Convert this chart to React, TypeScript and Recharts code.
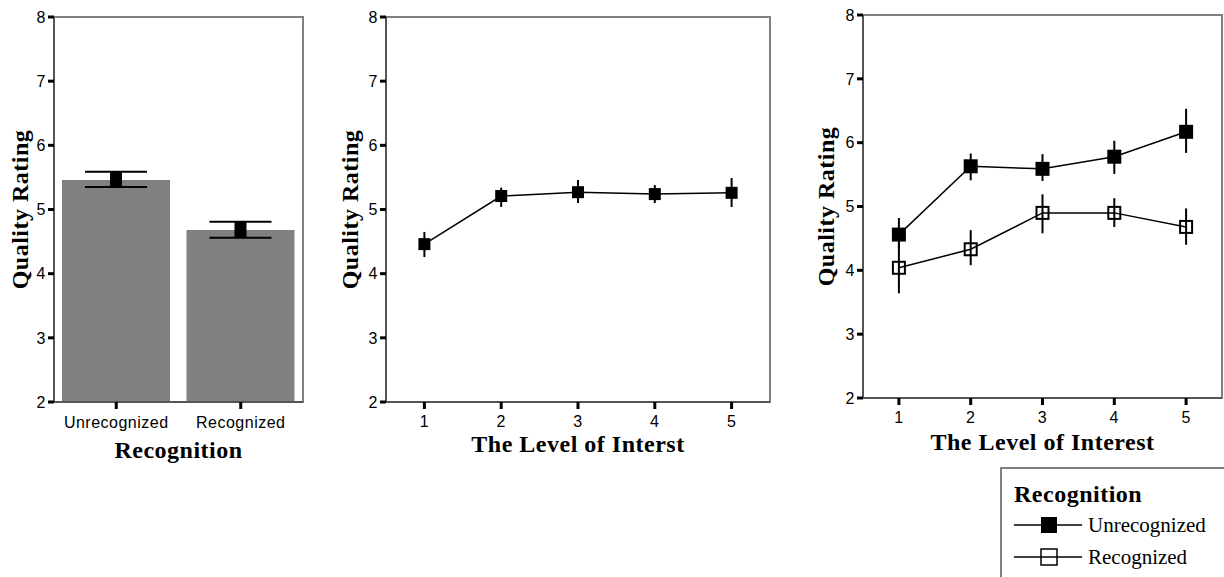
import React from 'react';
import {
  ComposedChart,
  Bar,
  ErrorBar,
  LineChart,
  Line,
  XAxis,
  YAxis,
  ReferenceArea,
} from 'recharts';

// panel 1: mean rating by recognition
const recognition = ['Unrecognized', 'Recognized'];
const barMeans = [5.46, 4.68];
const barLow = [5.35, 4.56];
const barHigh = [5.59, 4.81];

// panel 2: mean rating by level of interest
const levels = [1, 2, 3, 4, 5];
const interestMeans = [4.46, 5.21, 5.27, 5.24, 5.26];
const interestLow = [4.26, 5.04, 5.1, 5.1, 5.04];
const interestHigh = [4.65, 5.34, 5.46, 5.38, 5.49];

// panel 3: interest x recognition
const unrecMeans = [4.56, 5.63, 5.59, 5.78, 6.17];
const unrecLow = [4.35, 5.41, 5.4, 5.51, 5.84];
const unrecHigh = [4.82, 5.83, 5.82, 6.03, 6.53];
const recMeans = [4.04, 4.33, 4.9, 4.9, 4.68];
const recLow = [3.64, 4.08, 4.58, 4.68, 4.4];
const recHigh = [4.42, 4.63, 5.19, 5.13, 4.97];

const ratingTicks = [2, 3, 4, 5, 6, 7, 8];

const err = (m: number, lo: number, hi: number) => [m - lo, hi - m];

const barData = recognition.map((name, i) => ({
  name,
  mean: barMeans[i],
  err: err(barMeans[i], barLow[i], barHigh[i]),
}));

const interestData = levels.map((lvl, i) => ({
  lvl,
  mean: interestMeans[i],
  err: err(interestMeans[i], interestLow[i], interestHigh[i]),
}));

const splitData = levels.map((lvl, i) => ({
  lvl,
  unrec: unrecMeans[i],
  unrecErr: err(unrecMeans[i], unrecLow[i], unrecHigh[i]),
  rec: recMeans[i],
  recErr: err(recMeans[i], recLow[i], recHigh[i]),
}));

const SANS = 'Liberation Sans, Arial, sans-serif';
const SERIF = 'Liberation Serif, Times New Roman, serif';
const AXIS = '#555';
const FRAME = '#808080';

const tickStyle = { fill: '#000', fontSize: 16, fontFamily: SANS, letterSpacing: 0.5 };
const titleStyle = {
  fill: '#000',
  fontSize: 24,
  fontWeight: 700,
  fontFamily: SERIF,
  letterSpacing: 0.5,
  textAnchor: 'middle' as const,
};

const square = (size: number, filled: boolean) => (props: any) => {
  const { cx, cy, index } = props;
  if (cx == null || cy == null) return <g key={`e-${index}`} />;
  return (
    <rect
      key={`d-${index}`}
      x={cx - size / 2}
      y={cy - size / 2}
      width={size}
      height={size}
      fill={filled ? '#000' : 'none'}
      stroke="#000"
      strokeWidth={filled ? 0 : 2}
    />
  );
};

const yAxisProps = (width: number, offset: number) => ({
  type: 'number' as const,
  domain: [2, 8],
  ticks: ratingTicks,
  width,
  tickSize: 6,
  tickMargin: 2,
  interval: 0 as const,
  tick: tickStyle,
  tickLine: { stroke: '#000', strokeWidth: 3 },
  axisLine: { stroke: AXIS, strokeWidth: 2 },
  label: {
    value: 'Quality Rating',
    angle: -90,
    position: 'insideLeft' as const,
    offset,
    style: titleStyle,
  },
});

const xTickLine = { stroke: '#000', strokeWidth: 3 };

export default function App() {
  return (
    <div
      style={{
        position: 'absolute',
        left: 0,
        top: 0,
        width: 1224,
        height: 577,
        background: '#fff',
        overflow: 'hidden',
      }}
    >
      <div style={{ position: 'absolute', left: 0, top: 0 }}>
        <ComposedChart
          width={310}
          height={470}
          data={barData}
          margin={{ top: 17, right: 7, left: 0, bottom: 0 }}
        >
          <ReferenceArea y1={2} y2={8} fill="none" stroke={FRAME} strokeWidth={2} />
          <XAxis
            dataKey="name"
            height={68}
            tickSize={7}
            tickMargin={8}
            tick={tickStyle}
            tickLine={xTickLine}
            axisLine={{ stroke: AXIS, strokeWidth: 2 }}
            label={{ value: 'Recognition', position: 'insideBottom', offset: 12, style: titleStyle }}
          />
          <YAxis {...yAxisProps(54, 19)} />
          <Bar dataKey="mean" fill="#808080" barSize={108} isAnimationActive={false}>
            <ErrorBar dataKey="err" width={31} stroke="#000" strokeWidth={2} />
            <ErrorBar dataKey="err" width={0} stroke="#000" strokeWidth={12} />
          </Bar>
        </ComposedChart>
      </div>

      <div style={{ position: 'absolute', left: 320, top: 0 }}>
        <LineChart
          width={460}
          height={470}
          data={interestData}
          margin={{ top: 17, right: 10, left: 0, bottom: 0 }}
        >
          <ReferenceArea y1={2} y2={8} fill="none" stroke={FRAME} strokeWidth={2} />
          <XAxis
            dataKey="lvl"
            type="number"
            domain={[0.5, 5.5]}
            ticks={levels}
            height={68}
            tickSize={7}
            tickMargin={7}
            tick={tickStyle}
            tickLine={xTickLine}
            axisLine={{ stroke: AXIS, strokeWidth: 2 }}
            label={{ value: 'The Level of Interst', position: 'insideBottom', offset: 18, style: titleStyle }}
          />
          <YAxis {...yAxisProps(66, 29)} />
          <Line
            dataKey="mean"
            stroke="#000"
            strokeWidth={1.5}
            dot={square(12, true)}
            activeDot={false}
            isAnimationActive={false}
          >
            <ErrorBar dataKey="err" width={0} stroke="#000" strokeWidth={2} />
          </Line>
        </LineChart>
      </div>

      <div style={{ position: 'absolute', left: 800, top: 0 }}>
        <LineChart
          width={424}
          height={470}
          data={splitData}
          margin={{ top: 15, right: 2, left: 0, bottom: 0 }}
        >
          <ReferenceArea y1={2} y2={8} fill="none" stroke={FRAME} strokeWidth={2} />
          <XAxis
            dataKey="lvl"
            type="number"
            domain={[0.5, 5.5]}
            ticks={levels}
            height={72}
            tickSize={7}
            tickMargin={7}
            tick={tickStyle}
            tickLine={xTickLine}
            axisLine={{ stroke: AXIS, strokeWidth: 2 }}
            label={{ value: 'The Level of Interest', position: 'insideBottom', offset: 20, style: titleStyle }}
          />
          <YAxis {...yAxisProps(63, 25)} />
          <Line
            dataKey="rec"
            stroke="#000"
            strokeWidth={1.5}
            dot={square(12, false)}
            activeDot={false}
            isAnimationActive={false}
          >
            <ErrorBar dataKey="recErr" width={0} stroke="#000" strokeWidth={2} />
          </Line>
          <Line
            dataKey="unrec"
            stroke="#000"
            strokeWidth={1.5}
            dot={square(14, true)}
            activeDot={false}
            isAnimationActive={false}
          >
            <ErrorBar dataKey="unrecErr" width={0} stroke="#000" strokeWidth={2} />
          </Line>
        </LineChart>
      </div>

      <div
        style={{
          position: 'absolute',
          left: 1000,
          top: 467,
          width: 240,
          height: 130,
          border: `2px solid ${FRAME}`,
          boxSizing: 'border-box',
        }}
      >
        <div
          style={{
            position: 'absolute',
            left: 12,
            top: 12,
            fontFamily: SERIF,
            fontWeight: 700,
            fontSize: 24,
            letterSpacing: 0.5,
            lineHeight: '26px',
          }}
        >
          Recognition
        </div>
        {[
          { label: 'Unrecognized', filled: true, top: 44 },
          { label: 'Recognized', filled: false, top: 76 },
        ].map((it) => (
          <div
            key={it.label}
            style={{ position: 'absolute', left: 12, top: it.top, display: 'flex', alignItems: 'center', height: 24 }}
          >
            <svg width={70} height={24}>
              <line x1={0} y1={12} x2={68} y2={12} stroke="#000" strokeWidth={1.5} />
              <rect
                x={27}
                y={4}
                width={16}
                height={16}
                fill={it.filled ? '#000' : '#fff'}
                stroke="#000"
                strokeWidth={it.filled ? 0 : 1.5}
              />
              {!it.filled && <line x1={27} y1={12} x2={43} y2={12} stroke="#000" strokeWidth={1.5} />}
            </svg>
            <span style={{ fontFamily: SERIF, fontSize: 21, marginLeft: 4 }}>{it.label}</span>
          </div>
        ))}
      </div>
    </div>
  );
}
